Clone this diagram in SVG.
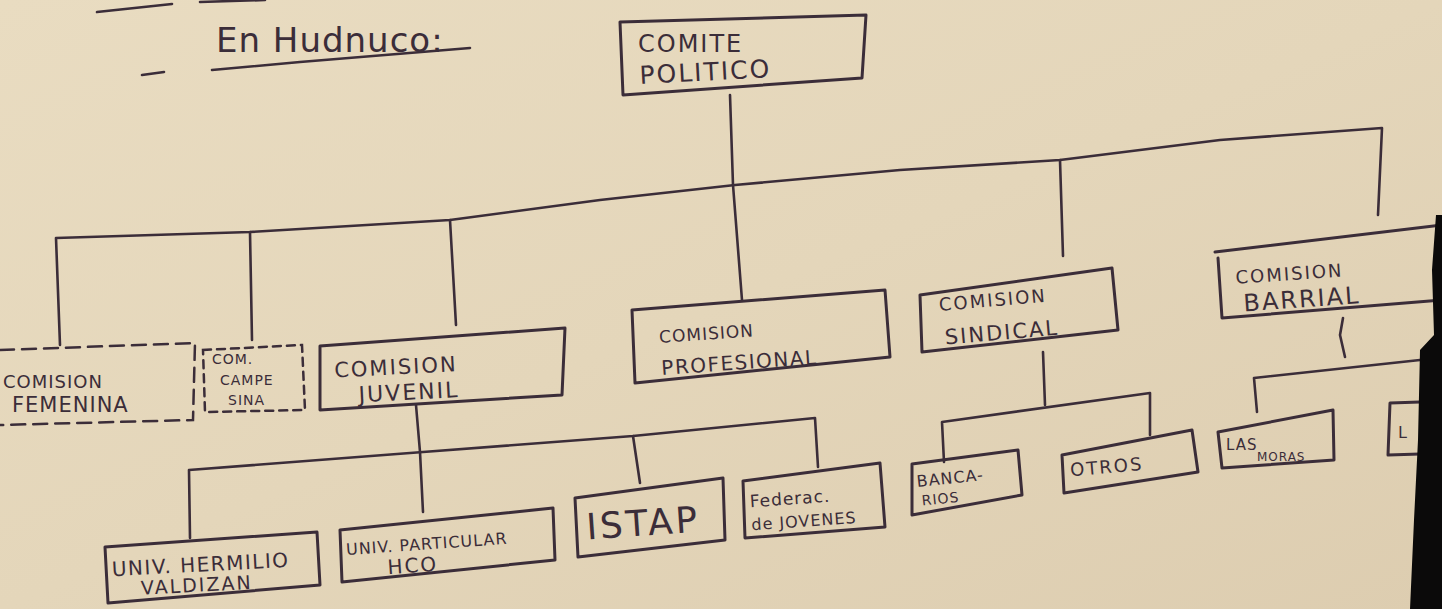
<svg xmlns="http://www.w3.org/2000/svg" width="1442" height="609" viewBox="0 0 1442 609">
<defs>
<linearGradient id="paper" x1="0" y1="0" x2="1" y2="1">
<stop offset="0" stop-color="#e9dcc1"/>
<stop offset="0.5" stop-color="#e4d6ba"/>
<stop offset="1" stop-color="#ddcdb0"/>
</linearGradient>
<style>
.box{fill:none;stroke:#3b2d39;stroke-width:3;stroke-linejoin:round;stroke-linecap:round}
.dash{fill:none;stroke:#3b2d39;stroke-width:2.5;stroke-dasharray:14 8;stroke-linecap:round}
.ln{fill:none;stroke:#3b2d39;stroke-width:2.6;stroke-linecap:round;stroke-linejoin:round}
.t{font-family:"DejaVu Sans","Liberation Sans",sans-serif;fill:#3b2d39;font-size:19px;letter-spacing:2px}
.s{font-size:14px;letter-spacing:1px}
</style>
</defs>
<rect width="1442" height="609" fill="url(#paper)"/>
<g id="title">
<path class="ln" d="M97 12 L172 4" stroke-width="3"/>
<path class="ln" d="M200 2 L265 0" stroke-width="3"/>
<path class="ln" d="M142 75 L164 72" stroke-width="3"/>
<path class="ln" d="M212 70 L300 62 L470 48" stroke-width="3"/>
<text class="t" x="216" y="52" style="font-size:34px;letter-spacing:1px">En Hudnuco:</text>
</g>
<g id="connectors">
<path class="ln" d="M730 95 L733 185 L742 300"/>
<path class="ln" d="M60 345 L56 238 L250 232 L450 220 L600 200 L735 185 L900 170 L1060 160 L1220 140 L1382 128 L1378 215"/>
<path class="ln" d="M250 232 L252 340"/>
<path class="ln" d="M450 220 L456 325"/>
<path class="ln" d="M1060 160 L1063 256"/>
<path class="ln" d="M416 405 L420 452 L423 512"/>
<path class="ln" d="M190 538 L189 470 L423 452 L633 436 L815 418 L818 467"/>
<path class="ln" d="M633 436 L640 483"/>
<path class="ln" d="M1043 352 L1045 405"/>
<path class="ln" d="M944 462 L942 422 L1150 393 L1150 435"/>
<path class="ln" d="M1343 318 L1340 335 L1345 357"/>
<path class="ln" d="M1257 412 L1254 378 L1420 360"/>
</g>
<g id="comite-politico">
<path class="box" d="M620 22 L866 15 L862 78 L623 95 Z"/>
<text class="t" x="638" y="52" style="font-size:24px">COMITE</text>
<text class="t" x="640" y="84" style="font-size:25px" transform="rotate(-3 640 84)">POLITICO</text>
</g>
<g id="comision-femenina">
<path class="dash" d="M0 350 L195 343 L193 420 L0 425"/>
<text class="t s" x="3" y="388" style="font-size:18px">COMISION</text>
<text class="t s" x="12" y="412" style="font-size:21px">FEMENINA</text>
</g>
<g id="com-campesina">
<path class="dash" d="M203 350 L302 345 L305 410 L205 412 Z" style="stroke-dasharray:8 6"/>
<text class="t s" x="212" y="364">COM.</text>
<text class="t s" x="220" y="385">CAMPE</text>
<text class="t s" x="228" y="405">SINA</text>
</g>
<g id="comision-juvenil">
<path class="box" d="M320 346 L565 328 L562 395 L320 410 Z"/>
<g transform="rotate(-3 440 380)">
<text class="t" x="335" y="372" style="font-size:21px">COMISION</text>
<text class="t" x="358" y="398" style="font-size:22px">JUVENIL</text>
</g>
</g>
<g id="comision-profesional">
<path class="box" d="M632 310 L885 290 L890 357 L635 383 Z"/>
<g transform="rotate(-4 760 345)">
<text class="t s" x="660" y="336" style="font-size:17px">COMISION</text>
<text class="t" x="660" y="368" style="font-size:20px;letter-spacing:1.5px">PROFESIONAL</text>
</g>
</g>
<g id="comision-sindical">
<path class="box" d="M920 295 L1112 268 L1118 330 L922 352 Z"/>
<g transform="rotate(-5 1020 312)">
<text class="t" x="940" y="304" style="font-size:18px">COMISION</text>
<text class="t" x="943" y="338" style="font-size:21px">SINDICAL</text>
</g>
</g>
<g id="comision-barrial">
<path class="box" d="M1215 252 L1442 225 M1218 258 L1222 318 L1442 300"/>
<g transform="rotate(-4 1320 280)">
<text class="t" x="1236" y="278" style="font-size:18px">COMISION</text>
<text class="t" x="1242" y="306" style="font-size:24px">BARRIAL</text>
</g>
</g>
<g id="univ-hermilio">
<path class="box" d="M105 547 L317 532 L320 585 L108 603 Z"/>
<g transform="rotate(-3 210 570)">
<text class="t" x="112" y="571" style="font-size:20px;letter-spacing:1.5px">UNIV. HERMILIO</text>
<text class="t" x="140" y="591" style="font-size:19px">VALDIZAN</text>
</g>
</g>
<g id="univ-particular">
<path class="box" d="M340 530 L553 508 L555 560 L342 582 Z"/>
<g transform="rotate(-4 447 545)">
<text class="t s" x="346" y="548" style="font-size:16px">UNIV. PARTICULAR</text>
<text class="t" x="386" y="570" style="font-size:20px">HCO</text>
</g>
</g>
<g id="istap">
<path class="box" d="M575 498 L723 478 L725 540 L578 557 Z"/>
<text class="t" x="586" y="535" style="font-size:36px;letter-spacing:3px" transform="rotate(-4 650 520)">ISTAP</text>
</g>
<g id="federac-jovenes">
<path class="box" d="M743 481 L880 463 L885 527 L745 538 Z"/>
<g transform="rotate(-4 812 503)">
<text class="t s" x="750" y="503" style="font-size:17px">Federac.</text>
<text class="t s" x="750" y="526" style="font-size:16px">de JOVENES</text>
</g>
</g>
<g id="bancarios">
<path class="box" d="M912 464 L1018 450 L1022 495 L912 515 Z"/>
<g transform="rotate(-6 965 482)">
<text class="t s" x="917" y="482" style="font-size:16px">BANCA-</text>
<text class="t s" x="920" y="501">RIOS</text>
</g>
</g>
<g id="otros">
<path class="box" d="M1062 455 L1192 430 L1198 472 L1064 493 Z"/>
<text class="t" x="1070" y="472" style="font-size:18px" transform="rotate(-5 1120 465)">OTROS</text>
</g>
<g id="las-moras">
<path class="box" d="M1218 432 L1333 410 L1334 460 L1222 468 Z"/>
<text class="t s" x="1226" y="450" style="font-size:15px">LAS</text>
<text class="t s" x="1257" y="461" style="font-size:12px">MORAS</text>
</g>
<g id="partial-box">
<path class="box" d="M1420 402 L1390 403 L1388 455 L1420 454"/>
<text class="t s" x="1398" y="438" style="font-size:16px">L</text>
</g>
<path d="M1436 215 L1442 215 L1442 609 L1410 609 L1414 520 L1418 440 L1420 350 L1434 335 L1432 270 Z" fill="#0b0a0a"/>
</svg>
